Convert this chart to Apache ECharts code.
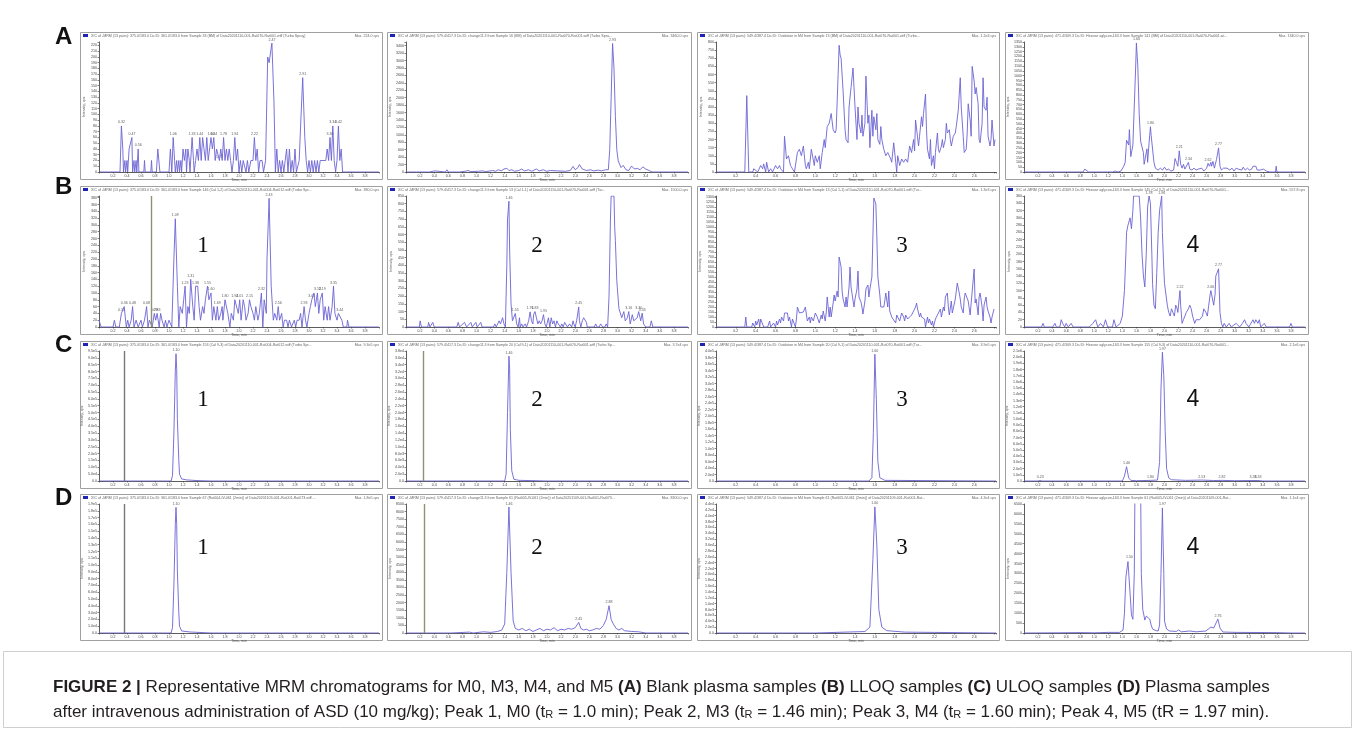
<!DOCTYPE html>
<html><head><meta charset="utf-8">
<script src="https://cdn.jsdelivr.net/npm/echarts/dist/echarts.min.js"></script>
<style>html,body{margin:0;padding:0;background:#fff}#c{width:1355px;height:730px}</style>
</head><body><div id="c"></div><script>
// ---------- DATA (time in min, intensity in cps) ----------
const A1 = [[0,0],[0.30,0],[0.32,80],[0.34,40],[0.35,0],[0.37,20],[0.38,0],[0.40,20],[0.41,0],[0.43,40],[0.45,40],[0.47,60],[0.48,0],[0.50,20],[0.51,0],[0.53,20],[0.54,0],[0.56,40],[0.57,0],[0.64,0],[0.65,20],[0.66,0],[0.74,0],[0.75,20],[0.76,0],[0.82,0],[0.84,40],[0.86,40],[0.87,0],[1.00,0],[1.02,40],[1.04,0],[1.06,60],[1.08,20],[1.09,0],[1.11,20],[1.12,0],[1.14,20],[1.15,0],[1.17,20],[1.18,0],[1.20,40],[1.22,20],[1.24,40],[1.25,0],[1.27,40],[1.29,20],[1.30,0],[1.33,60],[1.35,20],[1.36,0],[1.38,20],[1.40,40],[1.42,20],[1.44,60],[1.46,20],[1.48,60],[1.50,40],[1.52,20],[1.54,60],[1.56,20],[1.58,20],[1.60,60],[1.62,40],[1.64,60],[1.66,20],[1.68,40],[1.70,40],[1.72,20],[1.74,40],[1.76,20],[1.78,60],[1.80,20],[1.82,40],[1.84,20],[1.86,40],[1.88,20],[1.90,0],[1.92,20],[1.94,60],[1.96,20],[1.98,40],[2.00,0],[2.02,20],[2.04,0],[2.06,20],[2.08,20],[2.10,0],[2.12,20],[2.14,0],[2.17,20],[2.20,20],[2.22,60],[2.24,20],[2.26,40],[2.28,0],[2.30,20],[2.33,20],[2.35,0],[2.38,20],[2.41,200],[2.43,190],[2.47,224],[2.50,120],[2.52,0],[2.54,40],[2.56,0],[2.58,20],[2.60,0],[2.62,20],[2.64,0],[2.66,20],[2.68,40],[2.70,0],[2.72,40],[2.74,0],[2.76,20],[2.78,0],[2.80,40],[2.82,0],[2.86,20],[2.88,80],[2.91,164],[2.94,60],[2.96,20],[2.98,0],[3.00,20],[3.02,0],[3.04,20],[3.06,0],[3.08,20],[3.10,0],[3.12,20],[3.14,0],[3.16,20],[3.20,20],[3.24,20],[3.26,40],[3.28,20],[3.30,60],[3.32,20],[3.34,80],[3.36,20],[3.38,0],[3.40,20],[3.42,80],[3.44,20],[3.46,40],[3.48,0],[4.0,0]];
const A1_peaks = [0.32,0.47,0.56,1.06,1.33,1.44,1.60,1.64,1.72,1.78,1.94,2.22,2.47,2.91,3.30,3.34,3.42];

const A2 = [[0,0],[0.15,0],[0.17,30],[0.19,0],[0.29,0],[0.31,40],[0.33,0],[0.41,30],[0.43,0],[0.56,0],[0.58,60],[0.60,0],[0.72,0],[0.74,40],[0.76,0],[0.84,20],[0.88,40],[0.92,10],[1.03,20],[1.09,30],[1.13,10],[1.23,40],[1.27,20],[1.31,60],[1.35,30],[1.39,80],[1.43,100],[1.46,40],[1.50,60],[1.54,20],[1.60,40],[1.64,80],[1.68,30],[1.74,60],[1.78,20],[1.85,80],[1.89,30],[1.95,60],[1.99,20],[2.05,40],[2.15,30],[2.26,20],[2.33,40],[2.37,150],[2.40,60],[2.44,120],[2.46,200],[2.50,80],[2.56,40],[2.62,60],[2.66,30],[2.73,50],[2.77,30],[2.83,60],[2.87,60],[2.89,600],[2.91,2000],[2.93,3460],[2.95,2800],[2.97,1500],[2.99,600],[3.01,300],[3.03,250],[3.05,120],[3.08,180],[3.12,60],[3.16,40],[3.20,160],[3.24,80],[3.28,100],[3.32,60],[3.36,140],[3.40,80],[3.45,40],[3.49,0],[4.0,0]];
const A2_peaks = [2.93];

const A3 = [[0,0],[0.29,0],[0.31,470],[0.33,0],[0.37,0],[0.38,20],[0.40,30],[0.42,0],[0.45,40],[0.47,20],[0.48,50],[0.50,0],[0.51,60],[0.53,0],[0.55,20],[0.57,0],[0.60,40],[0.62,20],[0.64,40],[0.65,20],[0.68,0],[0.69,220],[0.71,80],[0.73,100],[0.75,40],[0.77,20],[0.79,0],[0.82,120],[0.84,140],[0.86,100],[0.88,160],[0.90,40],[0.91,20],[0.93,60],[0.94,20],[0.96,140],[0.99,40],[1.00,100],[1.02,60],[1.04,100],[1.05,20],[1.07,120],[1.09,200],[1.10,150],[1.12,280],[1.14,300],[1.16,360],[1.18,260],[1.20,240],[1.21,260],[1.23,600],[1.24,780],[1.25,720],[1.26,700],[1.28,500],[1.30,260],[1.31,200],[1.33,180],[1.34,400],[1.36,520],[1.38,640],[1.40,400],[1.42,200],[1.43,400],[1.44,300],[1.46,240],[1.47,350],[1.48,220],[1.50,300],[1.51,590],[1.53,300],[1.54,350],[1.55,150],[1.57,380],[1.58,220],[1.59,340],[1.61,260],[1.62,360],[1.63,200],[1.65,170],[1.66,280],[1.67,200],[1.69,140],[1.71,100],[1.73,120],[1.76,80],[1.77,60],[1.79,180],[1.81,60],[1.82,0],[1.83,100],[1.85,40],[1.87,80],[1.89,60],[1.91,80],[1.93,60],[1.95,160],[1.97,120],[1.99,200],[2.00,130],[2.01,320],[2.03,320],[2.04,160],[2.05,220],[2.07,340],[2.08,280],[2.09,360],[2.11,480],[2.12,260],[2.13,140],[2.15,80],[2.16,200],[2.17,40],[2.19,100],[2.20,20],[2.21,120],[2.23,240],[2.24,140],[2.25,120],[2.27,160],[2.28,200],[2.29,150],[2.31,200],[2.32,300],[2.33,240],[2.35,260],[2.36,200],[2.37,160],[2.39,220],[2.41,240],[2.42,280],[2.44,380],[2.46,580],[2.47,400],[2.49,220],[2.50,120],[2.52,140],[2.53,240],[2.54,420],[2.56,320],[2.57,220],[2.58,650],[2.60,560],[2.61,480],[2.62,520],[2.64,420],[2.65,200],[2.66,180],[2.68,300],[2.69,580],[2.70,400],[2.72,380],[2.73,460],[2.74,220],[2.76,160],[2.77,200],[2.78,320],[2.80,160],[2.81,200]];
const A3_peaks = [];

const A4 = [[0,0],[0.26,0],[0.285,20],[0.31,0],[0.84,0],[0.865,30],[0.89,10],[0.92,0],[1.15,0],[1.17,10],[1.19,0],[1.26,0],[1.28,20],[1.30,10],[1.32,20],[1.34,0],[1.38,10],[1.40,30],[1.42,60],[1.44,100],[1.46,330],[1.47,350],[1.49,280],[1.50,440],[1.52,160],[1.53,150],[1.55,280],[1.57,300],[1.59,1100],[1.60,1340],[1.62,1100],[1.64,600],[1.66,320],[1.68,300],[1.70,200],[1.71,80],[1.73,100],[1.75,240],[1.76,100],[1.78,300],[1.80,470],[1.81,380],[1.83,400],[1.85,100],[1.87,40],[1.89,30],[1.91,20],[1.94,40],[1.97,20],[2.00,50],[2.03,20],[2.06,30],[2.09,10],[2.11,30],[2.13,20],[2.15,140],[2.17,100],[2.19,60],[2.21,220],[2.23,80],[2.25,40],[2.27,80],[2.29,30],[2.31,20],[2.34,100],[2.36,30],[2.39,20],[2.42,40],[2.45,20],[2.48,30],[2.50,20],[2.53,40],[2.56,10],[2.60,40],[2.62,90],[2.64,60],[2.66,100],[2.67,60],[2.69,110],[2.71,40],[2.74,130],[2.77,250],[2.79,60],[2.81,20],[2.84,40],[2.86,20],[2.89,40],[2.93,20],[2.96,40],[2.99,10],[3.02,40],[3.05,30],[3.07,40],[3.10,20],[3.12,50],[3.15,20],[3.18,40],[3.21,20],[3.24,30],[3.26,60],[3.28,40],[3.30,60],[3.32,20],[3.34,40],[3.36,20],[3.41,30],[3.45,10],[3.50,0],[3.58,0],[3.59,60],[3.60,0],[4.0,0]];
const A4_peaks = [1.60,1.80,2.21,2.34,2.62,2.77];

const B1 = [[0,20],[0.02,20],[0.03,0],[0.20,0],[0.22,20],[0.24,0],[0.29,0],[0.32,40],[0.34,40],[0.36,60],[0.39,0],[0.41,20],[0.43,0],[0.46,20],[0.48,60],[0.50,0],[0.53,20],[0.56,0],[0.60,20],[0.62,0],[0.65,20],[0.68,60],[0.70,0],[0.72,20],[0.76,0],[0.79,40],[0.81,20],[0.83,40],[0.86,0],[0.88,40],[0.90,20],[0.93,0],[0.95,20],[0.97,0],[1.00,20],[1.02,20],[1.04,0],[1.07,200],[1.09,318],[1.12,120],[1.14,0],[1.16,60],[1.19,40],[1.21,80],[1.23,120],[1.25,0],[1.27,60],[1.29,40],[1.31,140],[1.34,60],[1.36,20],[1.38,120],[1.41,120],[1.43,60],[1.45,20],[1.48,60],[1.50,40],[1.52,80],[1.55,120],[1.57,80],[1.60,100],[1.62,20],[1.64,60],[1.67,20],[1.69,60],[1.71,20],[1.74,40],[1.76,60],[1.77,20],[1.80,80],[1.82,80],[1.84,40],[1.87,0],[1.89,40],[1.92,20],[1.94,80],[1.96,80],[1.99,40],[2.01,80],[2.03,20],[2.06,80],[2.08,60],[2.10,20],[2.13,40],[2.15,80],[2.17,60],[2.20,40],[2.22,20],[2.24,60],[2.27,20],[2.29,40],[2.32,100],[2.34,0],[2.36,80],[2.39,40],[2.40,200],[2.43,378],[2.46,120],[2.49,20],[2.51,40],[2.54,20],[2.56,60],[2.58,20],[2.61,40],[2.63,0],[2.65,20],[2.68,20],[2.70,0],[2.72,20],[2.75,0],[2.79,20],[2.81,0],[2.83,20],[2.86,20],[2.88,40],[2.90,0],[2.93,60],[2.95,20],[2.97,0],[3.00,40],[3.02,60],[3.04,80],[3.07,100],[3.09,60],[3.12,100],[3.14,40],[3.16,80],[3.19,100],[3.21,20],[3.23,60],[3.26,20],[3.28,60],[3.30,20],[3.33,60],[3.35,120],[3.37,40],[3.40,20],[3.42,40],[3.44,40],[3.47,20],[3.49,0],[3.54,0],[3.55,20],[3.57,0],[4.0,0]];
const B1_peaks = [0.32,0.36,0.48,0.68,0.79,0.83,1.09,1.23,1.31,1.38,1.55,1.60,1.69,1.80,1.94,2.01,2.15,2.32,2.43,2.56,2.93,3.04,3.12,3.19,3.35,3.44];

const B2 = [[0,0],[0.19,0],[0.20,40],[0.22,0],[0.31,0],[0.32,30],[0.34,0],[0.38,30],[0.40,0],[0.72,0],[0.74,30],[0.76,0],[0.83,30],[0.86,0],[0.92,30],[0.94,0],[0.99,30],[1.01,0],[1.06,30],[1.08,0],[1.24,0],[1.26,20],[1.28,0],[1.32,40],[1.34,20],[1.37,60],[1.39,20],[1.41,0],[1.43,400],[1.44,700],[1.46,816],[1.47,500],[1.49,150],[1.51,40],[1.53,40],[1.55,88],[1.57,20],[1.59,0],[1.61,60],[1.62,0],[1.64,20],[1.66,0],[1.69,20],[1.71,0],[1.74,40],[1.76,98],[1.78,40],[1.80,20],[1.81,80],[1.83,100],[1.85,60],[1.87,20],[1.89,40],[1.91,20],[1.93,40],[1.95,80],[1.97,20],[1.99,0],[2.00,20],[2.02,60],[2.04,0],[2.06,60],[2.08,20],[2.10,40],[2.12,0],[2.14,40],[2.16,20],[2.18,20],[2.19,0],[2.21,20],[2.23,0],[2.25,30],[2.27,20],[2.29,0],[2.32,20],[2.35,0],[2.37,40],[2.38,20],[2.40,0],[2.42,40],[2.45,130],[2.46,40],[2.48,0],[2.50,40],[2.52,60],[2.54,60],[2.56,30],[2.57,0],[2.67,0],[2.69,20],[2.71,0],[2.74,0],[2.76,20],[2.77,20],[2.79,0],[2.82,0],[2.84,20],[2.86,0],[2.88,200],[2.90,700],[2.91,850],[2.95,850],[2.96,650],[2.97,560],[2.99,300],[3.02,120],[3.04,130],[3.06,60],[3.09,100],[3.11,40],[3.14,60],[3.16,100],[3.18,20],[3.21,80],[3.23,40],[3.25,30],[3.28,60],[3.30,100],[3.33,40],[3.35,90],[3.37,20],[3.40,0],[3.46,0],[3.48,40],[3.50,0],[4.0,0]];
const B2_peaks = [1.46,1.55,1.76,1.83,1.95,2.45,3.16,3.30,3.35];

const B3 = [[0,0],[0.29,0],[0.30,100],[0.31,0],[0.36,0],[0.37,40],[0.39,0],[0.40,60],[0.41,20],[0.43,80],[0.44,0],[0.45,80],[0.47,60],[0.48,0],[0.52,0],[0.54,60],[0.55,0],[0.57,0],[0.58,40],[0.60,0],[0.61,60],[0.62,20],[0.64,80],[0.65,40],[0.66,100],[0.68,60],[0.69,140],[0.70,120],[0.72,140],[0.73,60],[0.74,100],[0.76,0],[0.77,80],[0.78,60],[0.80,0],[0.81,80],[0.82,200],[0.84,140],[0.85,160],[0.86,140],[0.88,150],[0.90,200],[0.91,180],[0.92,60],[0.94,100],[0.95,40],[0.96,100],[0.98,60],[0.99,100],[1.00,140],[1.02,100],[1.03,80],[1.04,40],[1.06,120],[1.07,80],[1.08,160],[1.10,60],[1.11,140],[1.12,300],[1.14,100],[1.15,200],[1.16,100],[1.18,240],[1.19,320],[1.20,260],[1.22,360],[1.23,300],[1.24,700],[1.26,600],[1.27,360],[1.28,280],[1.30,200],[1.31,300],[1.32,200],[1.34,400],[1.35,600],[1.36,400],[1.38,380],[1.39,200],[1.40,280],[1.42,380],[1.43,560],[1.44,300],[1.46,250],[1.47,200],[1.48,130],[1.50,260],[1.51,380],[1.53,420],[1.54,300],[1.55,380],[1.57,500],[1.58,900],[1.59,1290],[1.61,1230],[1.62,900],[1.63,500],[1.65,320],[1.66,200],[1.67,220],[1.69,200],[1.70,260],[1.71,340],[1.73,200],[1.74,360],[1.75,160],[1.77,100],[1.78,80],[1.79,100],[1.81,40],[1.82,120],[1.83,100],[1.85,60],[1.86,80],[1.87,140],[1.89,100],[1.90,60],[1.91,120],[1.93,80],[1.94,100],[1.95,60],[1.97,120],[1.98,100],[1.99,120],[2.01,200],[2.02,240],[2.03,180],[2.05,100],[2.06,140],[2.07,100],[2.09,120],[2.10,80],[2.11,0],[2.13,100],[2.14,40],[2.15,80],[2.17,20],[2.18,60],[2.19,0],[2.21,80],[2.22,60],[2.23,120],[2.25,100],[2.26,180],[2.27,100],[2.29,200],[2.30,160],[2.31,300],[2.33,340],[2.34,200],[2.35,120],[2.37,260],[2.38,140],[2.39,160],[2.41,280],[2.42,360],[2.43,440],[2.45,340],[2.46,280],[2.47,200],[2.49,140],[2.50,280],[2.51,340],[2.53,360],[2.54,260],[2.56,120],[2.57,240],[2.58,260],[2.60,580],[2.61,240],[2.62,280],[2.64,120],[2.65,300],[2.66,340],[2.68,200],[2.69,60],[2.70,220],[2.72,300],[2.73,200],[2.74,160],[2.76,100],[2.77,40],[2.78,100],[2.80,180]];
const B3_peaks = [];

const B4 = [[0,0],[0.25,0],[0.27,10],[0.29,0],[0.41,0],[0.44,10],[0.46,0],[0.51,0],[0.53,20],[0.55,10],[0.58,0],[0.60,10],[0.63,0],[0.67,10],[0.70,0],[0.93,0],[0.98,10],[1.02,20],[1.05,0],[1.09,10],[1.13,0],[1.16,20],[1.19,0],[1.26,0],[1.28,20],[1.31,0],[1.37,10],[1.40,30],[1.43,100],[1.45,200],[1.46,260],[1.48,280],[1.51,300],[1.53,270],[1.55,320],[1.56,360],[1.64,360],[1.66,300],[1.68,200],[1.70,140],[1.72,110],[1.74,200],[1.76,330],[1.78,360],[1.80,340],[1.82,200],[1.83,120],[1.85,60],[1.87,50],[1.89,150],[1.91,260],[1.93,320],[1.96,360],[1.97,260],[1.99,160],[2.00,120],[2.02,90],[2.04,60],[2.06,40],[2.08,30],[2.10,50],[2.12,40],[2.14,30],[2.16,60],[2.18,50],[2.19,40],[2.22,100],[2.23,60],[2.25,10],[2.27,20],[2.29,20],[2.31,40],[2.34,50],[2.36,60],[2.38,50],[2.40,30],[2.43,10],[2.45,20],[2.50,20],[2.54,30],[2.56,50],[2.59,40],[2.61,30],[2.63,60],[2.65,90],[2.66,100],[2.70,60],[2.72,90],[2.73,140],[2.77,160],[2.78,100],[2.79,40],[2.81,10],[2.83,0],[2.85,10],[2.88,0],[2.92,10],[2.95,0],[3.02,10],[3.07,0],[3.11,10],[3.14,20],[3.16,10],[3.18,10],[3.20,0],[3.26,20],[3.28,10],[3.30,20],[3.33,10],[3.35,20],[3.37,0],[3.42,10],[3.45,0],[3.78,0],[3.80,10],[3.82,0],[4.0,0]];
const B4_peaks = [1.78,1.96,2.22,2.66,2.77];

const C1 = [[0,0],[1.03,0],[1.05,40000],[1.07,350000],[1.09,800000],[1.10,930000],[1.11,820000],[1.12,450000],[1.14,150000],[1.15,50000],[1.18,15000],[1.25,8000],[1.40,3000],[1.60,0],[4.0,0]];
const C1_peaks = [1.10];
const C2 = [[0,0],[1.40,0],[1.42,2000],[1.44,20000],[1.46,36500],[1.47,33000],[1.48,15000],[1.50,3000],[1.53,500],[1.60,200],[2.00,0],[4.0,0]];
const C2_peaks = [1.46];
const C3 = [[0,0],[1.54,0],[1.57,10000],[1.585,150000],[1.60,390000],[1.615,250000],[1.63,60000],[1.65,10000],[1.70,2000],[2.82,0]];
const C3_peaks = [1.60];
const C4 = [[0,0],[0.20,0],[0.23,8000],[0.26,0],[1.40,0],[1.43,80000],[1.46,230000],[1.49,50000],[1.52,10000],[1.60,5000],[1.80,10000],[1.90,15000],[1.93,300000],[1.95,1500000],[1.97,2080000],[1.99,1700000],[2.01,800000],[2.03,200000],[2.06,50000],[2.10,20000],[2.30,10000],[2.53,15000],[2.70,8000],[2.82,10000],[3.00,5000],[3.26,8000],[3.33,8000],[3.40,0],[4.0,0]];
const C4_peaks = [0.23,1.46,1.80,1.97,2.53,2.82,3.26,3.33];

const D1 = [[0,0],[1.03,0],[1.05,8000],[1.07,70000],[1.09,160000],[1.10,185000],[1.11,160000],[1.12,90000],[1.14,30000],[1.15,10000],[1.18,3000],[1.30,1500],[1.60,0],[4.0,0]];
const D1_peaks = [1.10];
const D2 = [[0,0],[0.30,0],[0.32,100],[0.34,0],[0.60,0],[0.62,80],[0.64,0],[0.90,60],[0.95,0],[1.10,80],[1.20,40],[1.30,100],[1.36,200],[1.40,600],[1.43,4000],[1.46,8300],[1.49,4000],[1.52,800],[1.55,300],[1.60,200],[1.65,300],[1.70,150],[1.75,250],[1.80,100],[1.85,200],[1.90,300],[1.95,150],[2.00,250],[2.05,200],[2.10,350],[2.15,150],[2.20,250],[2.25,200],[2.30,300],[2.35,250],[2.40,350],[2.45,700],[2.48,300],[2.52,200],[2.56,250],[2.60,150],[2.65,200],[2.70,300],[2.75,250],[2.80,500],[2.84,900],[2.88,1800],[2.91,900],[2.94,600],[2.98,300],[3.02,200],[3.06,300],[3.10,150],[3.20,100],[3.30,80],[3.40,0],[4.0,0]];
const D2_peaks = [1.46,2.45,2.88];
const D3 = [[0,0],[1.00,0],[1.30,300],[1.50,500],[1.55,2000],[1.58,25000],[1.60,43000],[1.62,30000],[1.64,8000],[1.67,2000],[1.72,800],[1.90,300],[2.20,200],[2.82,0]];
const D3_peaks = [1.60];
const D4 = [[0,0],[0.50,10],[0.80,20],[1.00,10],[1.20,30],[1.36,30],[1.41,150],[1.43,1000],[1.45,2800],[1.48,3600],[1.50,3670],[1.51,2000],[1.53,900],[1.55,690],[1.57,3000],[1.58,7500],[1.66,7500],[1.67,3000],[1.69,1200],[1.72,650],[1.74,850],[1.76,910],[1.79,700],[1.81,400],[1.83,200],[1.88,120],[1.91,100],[1.93,400],[1.95,3000],[1.97,6300],[1.99,3000],[2.00,600],[2.03,200],[2.07,100],[2.17,80],[2.20,150],[2.24,60],[2.36,100],[2.45,60],[2.59,100],[2.66,300],[2.70,250],[2.76,700],[2.79,250],[2.83,50],[3.02,30],[3.59,20],[3.80,0],[4.0,0]];
const D4_peaks = [1.50,1.97,2.76];

const ROW_LETTERS = ['A','B','C','D'];
const PEAK_NUMBERS = ['1','2','3','4'];

// ---------- PANEL SETTINGS ----------
const PANELS = [
 {d:A1,p:A1_peaks,xMax:4.0,yMax:226,yStep:10,exp:false,vl:null,num:false,t:'XIC of -MRM (13 pairs): 375.0/183.0 Da ID: 361.0/183.0 from Sample 33 (BM) of Data20201110-001-Rat070-Rat001.wiff (Turbo Spray)',m:'Max. 224.0 cps'},
 {d:A2,p:A2_peaks,xMax:4.0,yMax:3500,yStep:200,exp:false,vl:null,num:false,t:'XIC of -MRM (13 pairs): 579.4/417.3 Da ID: change11.3 from Sample 16 (BM) of Data20201110-001-Rat070-Rat001.wiff (Turbo Spra...',m:'Max. 3460.0 cps'},
 {d:A3,p:A3_peaks,xMax:2.82,yMax:800,yStep:50,exp:false,vl:null,num:false,t:'XIC of -MRM (13 pairs): 549.4/387.4 Da ID: Oxidation in M4 from Sample 13 (BM) of Data20201110-001-Rat070-Rat001.wiff (Turbo...',m:'Max. 1.2e3 cps'},
 {d:A4,p:A4_peaks,xMax:4.0,yMax:1350,yStep:50,exp:false,vl:null,num:false,t:'XIC of -MRM (13 pairs): 471.4/309.3 Da ID: Hexose aglycon-163.3 from Sample 141 (BM) of Data20201110-001-Rat070-Rat001.wi...',m:'Max. 1340.0 cps'},
 {d:B1,p:B1_peaks,xMax:4.0,yMax:385,yStep:20,exp:false,vl:0.75,vc:'#8f926e',num:true,t:'XIC of -MRM (13 pairs): 375.0/183.0 Da ID: 361.0/183.0 from Sample 146 (Cal 1-2) of Data20201110-001-Rat004-Rat012.wiff (Turbo Spr...',m:'Max. 380.0 cps'},
 {d:B2,p:B2_peaks,xMax:4.0,yMax:850,yStep:50,exp:false,vl:null,num:true,t:'XIC of -MRM (13 pairs): 579.4/417.3 Da ID: change11.3 from Sample 13 (Cal 1-1) of Data20201110-001-Rat070-Rat001.wiff (Tur...',m:'Max. 1500.0 cps'},
 {d:B3,p:B3_peaks,xMax:2.82,yMax:1310,yStep:50,exp:false,vl:null,num:true,t:'XIC of -MRM (13 pairs): 549.4/387.4 Da ID: Oxidation in M4 from Sample 13 (Cal 1-1) of Data20201110-001-Rat070-Rat001.wiff (Tur...',m:'Max. 1.3e3 cps'},
 {d:B4,p:B4_peaks,xMax:4.0,yMax:360,yStep:20,exp:false,vl:null,num:true,t:'XIC of -MRM (13 pairs): 471.4/309.3 Da ID: Hexose aglycon-163.3 from Sample 145 (Cal 3-2) of Data20201110-001-Rat070-Rat001...',m:'Max. 557.8 cps'},
 {d:C1,p:C1_peaks,xMax:4.0,yMax:950000,yStep:50000,exp:true,vl:0.36,vc:'#777777',num:true,t:'XIC of -MRM (13 pairs): 375.0/183.0 Da ID: 361.0/183.0 from Sample 153 (Cal 9-3) of Data20201110-001-Rat004-Rat012.wiff (Turbo Spr...',m:'Max. 9.3e5 cps'},
 {d:C2,p:C2_peaks,xMax:4.0,yMax:38000,yStep:2000,exp:true,vl:0.25,vc:'#8f926e',num:true,t:'XIC of -MRM (13 pairs): 579.4/417.3 Da ID: change11.3 from Sample 20 (Cal 9-1) of Data20201110-001-Rat070-Rat001.wiff (Turbo Sp...',m:'Max. 3.7e4 cps'},
 {d:C3,p:C3_peaks,xMax:2.82,yMax:400000,yStep:20000,exp:true,vl:null,num:true,t:'XIC of -MRM (13 pairs): 549.4/387.4 Da ID: Oxidation in M4 from Sample 20 (Cal 9-1) of Data20201110-001-Rat070-Rat001.wiff (Tur...',m:'Max. 3.9e5 cps'},
 {d:C4,p:C4_peaks,xMax:4.0,yMax:2100000,yStep:100000,exp:true,vl:null,num:true,t:'XIC of -MRM (13 pairs): 471.4/309.3 Da ID: Hexose aglycon-163.3 from Sample 155 (Cal 9-3) of Data20201110-001-Rat070-Rat001...',m:'Max. 2.1e6 cps'},
 {d:D1,p:D1_peaks,xMax:4.0,yMax:190000,yStep:10000,exp:true,vl:0.36,vc:'#777777',num:true,t:'XIC of -MRM (13 pairs): 375.0/183.0 Da ID: 361.0/183.0 from Sample 67 (Rat004-IV-061 (2min)) of Data20201109-001-Rat001-Rat073.wiff ...',m:'Max. 1.8e5 cps'},
 {d:D2,p:D2_peaks,xMax:4.0,yMax:8500,yStep:500,exp:false,vl:0.26,vc:'#8f926e',num:true,t:'XIC of -MRM (13 pairs): 579.4/417.3 Da ID: change11.3 from Sample 61 (Rat005-IV-061 (2min)) of Data20201109-001-Rat001-Rat073...',m:'Max. 8300.0 cps'},
 {d:D3,p:D3_peaks,xMax:2.82,yMax:44000,yStep:2000,exp:true,vl:null,num:true,t:'XIC of -MRM (13 pairs): 549.4/387.4 Da ID: Oxidation in M4 from Sample 61 (Rat005-IV-061 (2min)) of Data20201109-001-Rat001-Rat...',m:'Max. 4.3e4 cps'},
 {d:D4,p:D4_peaks,xMax:4.0,yMax:6500,yStep:500,exp:false,vl:null,num:true,t:'XIC of -MRM (13 pairs): 471.4/309.3 Da ID: Hexose aglycon-163.3 from Sample 61 (Rat005-IV-061 (2min)) of Data20201109-001-Rat...',m:'Max. 1.1e4 cps'}
];

// ---------- LAYOUT ----------
const COL_X = [[80,382],[387,691],[697,999],[1005,1308]];
const ROW_Y = [[32,179],[186,334],[341,488],[494,640]];
const ROW_LABEL_Y = [37,187,345,498];
const NUM_X = [203,537,902,1193];
const NUM_Y = [0,246,400,548];
const LINE = '#6b63d4';
const SMALL = 3.6;

const grids=[], xAxes=[], yAxes=[], series=[], graphics=[];
PANELS.forEach((P,i)=>{
  const r=Math.floor(i/4), c=i%4;
  const bl=COL_X[c][0], br=COL_X[c][1], bt=ROW_Y[r][0], bb=ROW_Y[r][1];
  grids.push({left:bl+19, top:bt+10, width:(br-3)-(bl+19), height:(bb-7)-(bt+10), containLabel:false});
  xAxes.push({type:'value', gridIndex:i, min:0, max:P.xMax, interval:0.2,
    name:'Time, min', nameLocation:'middle', nameGap:5.5, nameTextStyle:{fontSize:SMALL,color:'#555',fontFamily:'Liberation Sans'},
    axisLine:{lineStyle:{color:'#333',width:0.8}}, axisTick:{length:1.5,lineStyle:{color:'#333',width:0.6}},
    axisLabel:{fontSize:SMALL,margin:1.5,color:'#444',fontFamily:'Liberation Sans',
      formatter:v=>(v<1e-9||v>P.xMax-0.05)?'':v.toFixed(1)},
    splitLine:{show:false}});
  yAxes.push({type:'value', gridIndex:i, min:0, max:P.yMax, interval:P.yStep,
    name:'Intensity, cps', nameLocation:'middle', nameRotate:90, nameGap:13, nameTextStyle:{fontSize:SMALL,color:'#555',fontFamily:'Liberation Sans'},
    axisLine:{show:true,lineStyle:{color:'#333',width:0.8}}, axisTick:{show:true,length:1.5,lineStyle:{color:'#333',width:0.6}},
    axisLabel:{fontSize:SMALL,margin:2,color:'#444',fontFamily:'Liberation Sans',
      formatter:v=>{const k=v/P.yStep; if(Math.abs(k-Math.round(k))>1e-6) return '';
        if(P.exp) return v===0?'0.0':v.toExponential(1).replace('+',''); return String(v);}},
    splitLine:{show:false}});
  const s={type:'line', xAxisIndex:i, yAxisIndex:i, data:P.d, symbol:'none', showSymbol:false, silent:true, animation:false, clip:true,
    lineStyle:{color:LINE,width:0.9}, z:3};
  if(P.vl!=null){
    s.markLine={symbol:'none', silent:true, animation:false, label:{show:false},
      lineStyle:{color:P.vc,width:1.4,type:'solid'}, data:[{xAxis:P.vl}]};
  }
  series.push(s);
  const pk=P.p.map(t=>{let best=P.d[0];P.d.forEach(q=>{if(Math.abs(q[0]-t)<Math.abs(best[0]-t))best=q;});return [best[0],Math.min(best[1],P.yMax)];});
  series.push({type:'scatter', xAxisIndex:i, yAxisIndex:i, data:pk, symbolSize:1, silent:true, animation:false,
    itemStyle:{color:'rgba(0,0,0,0)'},
    label:{show:true, position:'top', distance:1, fontSize:SMALL, color:'#333', fontFamily:'Liberation Sans', formatter:d=>d.value[0].toFixed(2)}});
  // panel frame and header
  graphics.push({type:'rect', silent:true, shape:{x:bl+0.5,y:bt+0.5,width:br-bl,height:bb-bt}, style:{fill:'none',stroke:'#a0a0a0',lineWidth:1}});
  graphics.push({type:'rect', silent:true, shape:{x:bl+3,y:bt+2,width:5,height:3}, style:{fill:'#1f24b5'}});
  graphics.push({type:'text', silent:true, x:bl+11, y:bt+2, style:{text:P.t, fontSize:SMALL, fontFamily:'Liberation Sans', fill:'#666'}});
  graphics.push({type:'text', silent:true, x:br-3, y:bt+2, style:{text:P.m, fontSize:SMALL, fontFamily:'Liberation Sans', fill:'#666', align:'right'}});
  if(P.num){
    graphics.push({type:'text', silent:true, x:NUM_X[c], y:NUM_Y[r], style:{text:PEAK_NUMBERS[c], fontSize:23,
      fontFamily:c===3?'Liberation Sans':'Liberation Serif', fill:'#111', align:'center', verticalAlign:'middle'}});
  }
});
ROW_LETTERS.forEach((L,r)=>{
  graphics.push({type:'text', silent:true, x:55, y:ROW_LABEL_Y[r], style:{text:L, fontSize:24, fontWeight:'bold', fontFamily:'Liberation Sans', fill:'#111', align:'left', verticalAlign:'middle'}});
});
// caption
graphics.push({type:'rect', silent:true, shape:{x:3.5,y:651.5,width:1348,height:76}, style:{fill:'none',stroke:'#cfcfcf',lineWidth:1}});
const capRich={b:{fontWeight:'bold',fontSize:17,fontFamily:'Liberation Sans',fill:'#231f20'},
  s:{fontSize:11,fontFamily:'Liberation Sans',fill:'#231f20',verticalAlign:'bottom',padding:[6,0,0,0]}};
graphics.push({type:'text', silent:true, x:53, y:687, style:{
  text:'{b|FIGURE 2 |} Representative MRM chromatograms for M0, M3, M4, and M5 {b|(A)} Blank plasma samples {b|(B)} LLOQ samples {b|(C)} ULOQ samples {b|(D)} Plasma samples',
  fontSize:17, fontFamily:'Liberation Sans', fill:'#231f20', verticalAlign:'middle', rich:capRich}});
graphics.push({type:'text', silent:true, x:53, y:712, style:{
  text:'after intravenous administration of ASD (10 mg/kg); Peak 1, M0 (t{s|R} = 1.0 min); Peak 2, M3 (t{s|R} = 1.46 min); Peak 3, M4 (t{s|R} = 1.60 min); Peak 4, M5 (tR = 1.97 min).',
  fontSize:17, fontFamily:'Liberation Sans', fill:'#231f20', verticalAlign:'middle', rich:capRich}});

const chart=echarts.init(document.getElementById('c'),null,{renderer:'canvas'});
chart.setOption({animation:false, backgroundColor:'#fff', grid:grids, xAxis:xAxes, yAxis:yAxes, series:series, graphic:graphics});
</script></body></html>
